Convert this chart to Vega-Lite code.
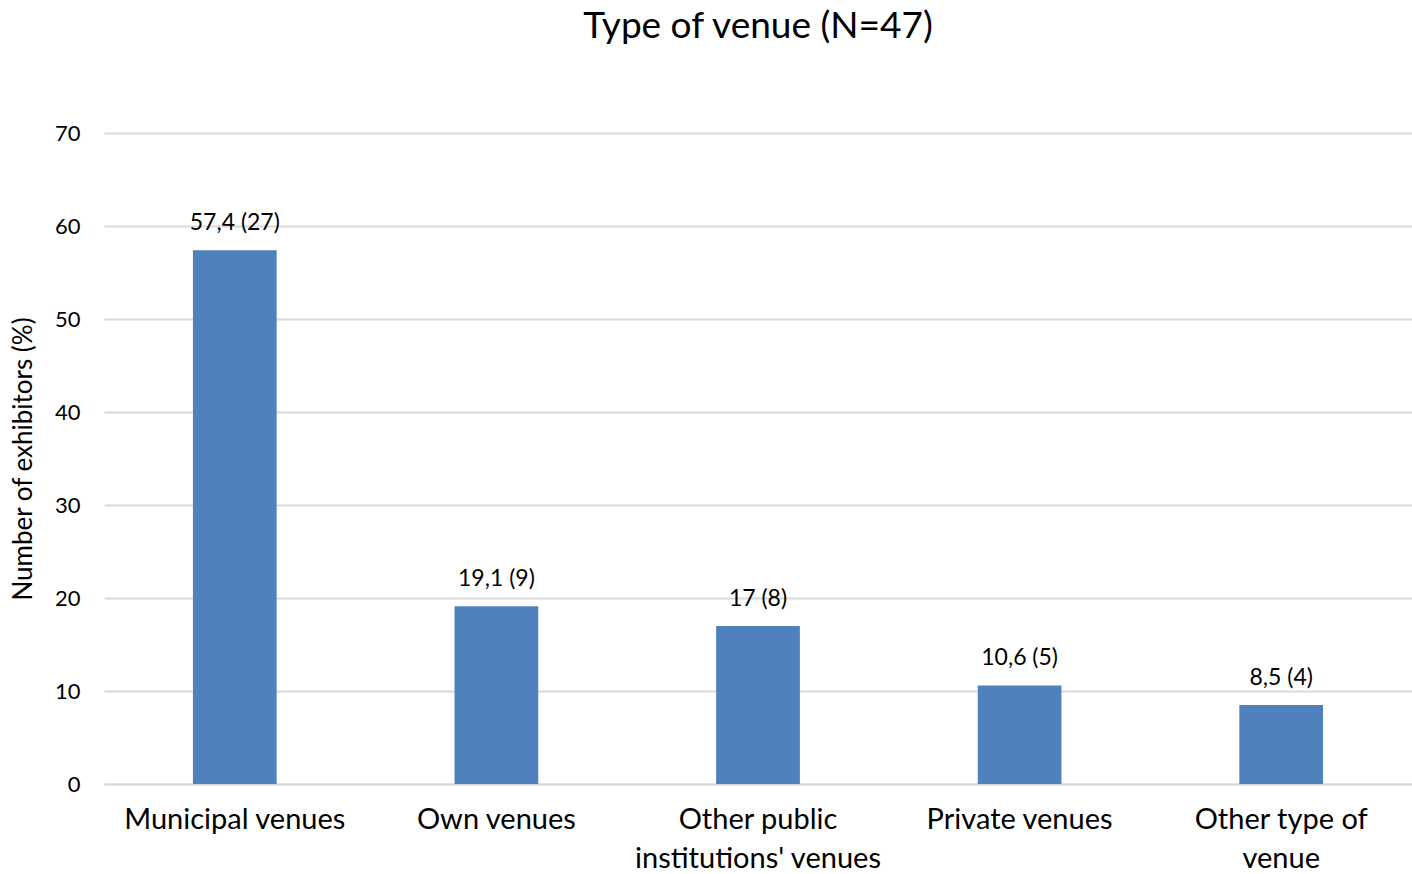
{
  "$schema": "https://vega.github.io/schema/vega-lite/v6.json",
  "width": 1412,
  "height": 874,
  "autosize": {"type": "fit", "contains": "padding"},
  "padding": {"left": 10, "top": 8, "right": 0, "bottom": 1},
  "background": "white",
  "title": {
    "text": "Type of venue (N=47)",
    "fontSize": 37,
    "font": "Lato",
    "fontWeight": "normal",
    "color": "#000000",
    "anchor": "middle",
    "offset": 76
  },
  "data": {
    "values": [
      {"venue": "Municipal venues", "pct": 57.4, "n": 27},
      {"venue": "Own venues", "pct": 19.1, "n": 9},
      {"venue": "Other public institutions' venues", "pct": 17, "n": 8},
      {"venue": "Private venues", "pct": 10.6, "n": 5},
      {"venue": "Other type of venue", "pct": 8.5, "n": 4}
    ]
  },
  "transform": [
    {"calculate": "replace(toString(datum.pct), '.', ',') + ' (' + datum.n + ')'", "as": "label"}
  ],
  "encoding": {
    "x": {
      "field": "venue",
      "type": "nominal",
      "sort": null,
      "scale": {"paddingInner": 0.68, "paddingOuter": 0.34},
      "axis": {
        "title": null,
        "labelAngle": 0,
        "labelFontSize": 29,
        "labelFont": "Lato",
        "labelColor": "#000000",
        "labelPadding": 21,
        "labelLineHeight": 39,
        "labelLimit": 400,
        "ticks": false,
        "domainColor": "#D9D9D9",
        "domainWidth": 2,
        "labelExpr": "datum.value == \"Other public institutions' venues\" ? ['Other public', \"institutions' venues\"] : datum.value == 'Other type of venue' ? ['Other type of', 'venue'] : datum.value"
      }
    },
    "y": {
      "field": "pct",
      "type": "quantitative",
      "scale": {"domain": [0, 70]},
      "axis": {
        "title": "Number of exhibitors (%)",
        "titleFontSize": 26,
        "titleFont": "Lato",
        "titleFontWeight": "normal",
        "titleColor": "#000000",
        "titlePadding": 18,
        "values": [0, 10, 20, 30, 40, 50, 60, 70],
        "labelFontSize": 22,
        "labelFont": "Lato",
        "labelColor": "#000000",
        "labelPadding": 24,
        "ticks": false,
        "domain": false,
        "gridColor": "#D9D9D9",
        "gridWidth": 2
      }
    }
  },
  "layer": [
    {"mark": {"type": "bar", "color": "#4F81BD"}},
    {
      "mark": {"type": "text", "baseline": "bottom", "dy": -15, "fontSize": 23, "font": "Lato", "color": "#000000"},
      "encoding": {"text": {"field": "label"}}
    }
  ],
  "config": {"view": {"stroke": null}}
}
